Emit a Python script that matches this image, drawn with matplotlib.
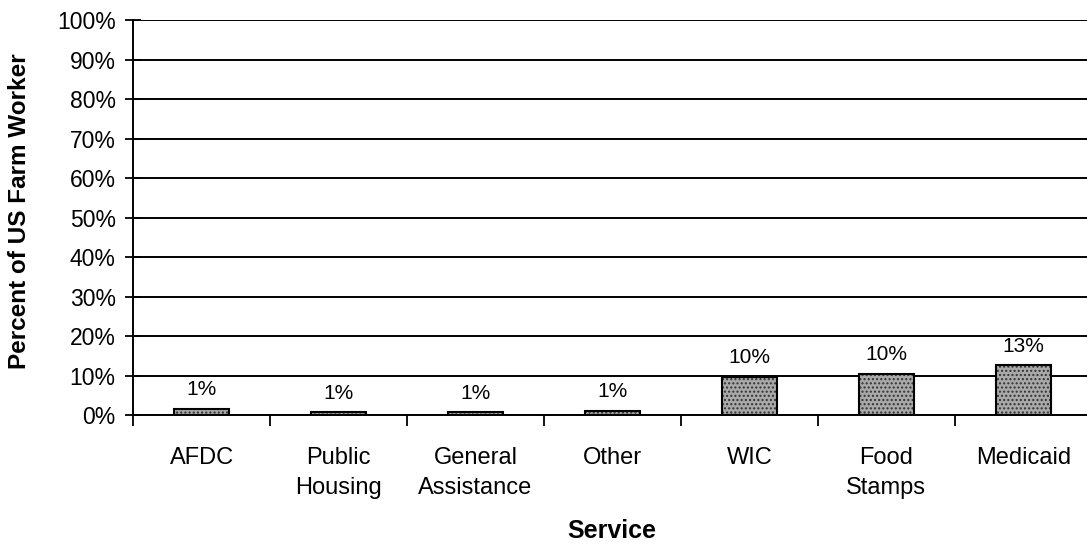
import matplotlib.pyplot as plt

# data
services = ["AFDC", "Public\nHousing", "General\nAssistance", "Other", "WIC", "Food\nStamps", "Medicaid"]
pct = [1.6, 0.7, 0.7, 1.1, 9.6, 10.4, 12.6]
pct_labels = ["1%", "1%", "1%", "1%", "10%", "10%", "13%"]
y_ticks = list(range(0, 101, 10))

plt.rcParams['font.family'] = ['Liberation Sans', 'DejaVu Sans']

fig = plt.figure(figsize=(10.87, 5.53), dpi=100)
ax = fig.add_axes([0.1224, 0.2495, 0.882, 0.7143])

x = list(range(len(services)))
ax.bar(x, pct, width=0.4, color='#a9a9a9', edgecolor='#333333', linewidth=1.2,
       hatch='....', zorder=3)
# hatch colour comes from edgecolor; redraw edges solid
ax.bar(x, pct, width=0.4, color='none', edgecolor='black', linewidth=1.5, zorder=4)

for xi, v, lab in zip(x, pct, pct_labels):
    ax.annotate(lab, (xi, v), xytext=(0, 7), textcoords='offset points',
                ha='center', va='bottom', fontsize=15)

ax.set_xlim(-0.5, len(services) - 0.5)
ax.set_ylim(0, 100)
ax.set_yticks(y_ticks)
ax.set_yticklabels([f"{t}%" for t in y_ticks], fontsize=16.5)
ax.yaxis.grid(True, color='black', linewidth=1.4, zorder=0)
ax.set_axisbelow(True)

# category boundaries as x ticks
ax.set_xticks([i - 0.5 for i in range(len(services) + 1)])
ax.set_xticklabels([])
ax.tick_params(axis='x', direction='out', length=8, width=1.3)
ax.tick_params(axis='y', direction='inout', length=11, width=1.3, pad=7)
for xi, name in zip(x, services):
    ax.annotate(name, (xi, 0), xytext=(0, -23), textcoords='offset points',
                ha='center', va='top', fontsize=17, linespacing=1.45,
                annotation_clip=False)

ax.spines['top'].set_visible(False)
ax.spines['right'].set_visible(False)
ax.spines['left'].set_linewidth(1.4)
ax.spines['bottom'].set_linewidth(1.4)

fig.text(20 / 1087, 1 - 211 / 553, "Percent of US Farm Worker", rotation=90,
         ha='center', va='center', fontsize=17.5, fontweight='bold')
fig.text(612 / 1087, 1 - 531 / 553, "Service", ha='center', va='center',
         fontsize=18, fontweight='bold')

fig.savefig("out.png", dpi=100)
